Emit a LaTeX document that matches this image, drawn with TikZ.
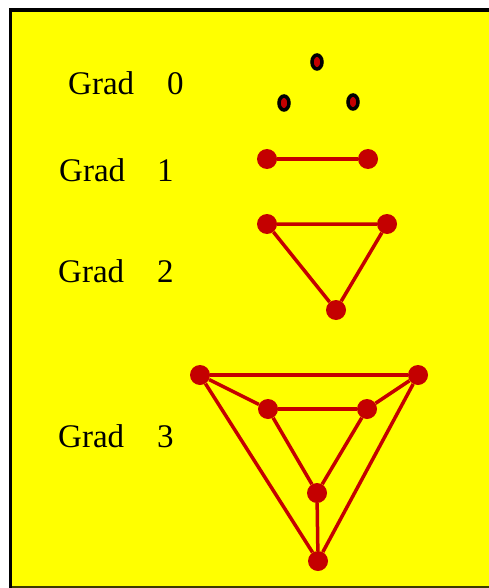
\documentclass[tikz,border=0pt]{standalone}
\usepackage{fontspec}
\setmainfont{Liberation Serif}
\usetikzlibrary{shapes.geometric}
\definecolor{bgyellow}{RGB}{255,255,0}
\definecolor{vred}{RGB}{196,0,0}
\definecolor{darkline}{RGB}{60,60,0}
\begin{document}
\begin{tikzpicture}[x=1pt,y=-1pt,
  lbl/.style={anchor=base west,inner sep=0pt,font=\fontsize{33}{36}\selectfont},
  vtx/.style={circle,fill=vred,inner sep=0pt,minimum size=20pt},
  dotzero/.style={ellipse,fill=vred,draw=black,line width=3.5pt,inner sep=0pt,minimum width=10pt,minimum height=14pt},
  edge/.style={draw=vred,line width=3.5pt}]
\useasboundingbox (0,0) rectangle (489,588);
\fill[white] (0,0) rectangle (489,588);
\fill[bgyellow] (12,12) rectangle (489,586);
\fill[black] (9,8) rectangle (489,12);
\fill[black] (9,8) rectangle (12,588);
\fill[darkline] (12,586) rectangle (489,588);
% labels
\node[lbl] (g0) at (68,95) {Grad};
\node[lbl] (n0) at (167,95) {0};
\node[lbl] (g1) at (59,181) {Grad};
\node[lbl] (n1) at (157,181) {1};
\node[lbl] (g2) at (58,282) {Grad};
\node[lbl] (n2) at (157,282) {2};
\node[lbl] (g3) at (58,447) {Grad};
\node[lbl] (n3) at (157,447) {3};
% grade 0
\node[dotzero] (a0) at (317,62) {};
\node[dotzero] (b0) at (284,103) {};
\node[dotzero] (c0) at (353,102) {};
% grade 1
\node[vtx] (a1) at (267,159) {};
\node[vtx] (b1) at (368,159) {};
\draw[edge] (a1) -- (b1);
% grade 2
\node[vtx] (a2) at (267,224) {};
\node[vtx] (b2) at (387,224) {};
\node[vtx] (c2) at (336,310) {};
\draw[edge] (a2) -- (b2) -- (c2) -- (a2);
% grade 3
\node[vtx] (ol) at (200,375) {};
\node[vtx] (or) at (418,375) {};
\node[vtx] (il) at (268,409) {};
\node[vtx] (ir) at (367,409) {};
\node[vtx] (m) at (317,493) {};
\node[vtx] (bt) at (318,561) {};
\draw[edge] (ol) -- (or);
\draw[edge] (il) -- (ir);
\draw[edge] (ol) -- (il);
\draw[edge] (or) -- (ir);
\draw[edge] (ol) -- (bt);
\draw[edge] (or) -- (bt);
\draw[edge] (il) -- (m);
\draw[edge] (ir) -- (m);
\draw[edge] (m) -- (bt);
\end{tikzpicture}
\end{document}
